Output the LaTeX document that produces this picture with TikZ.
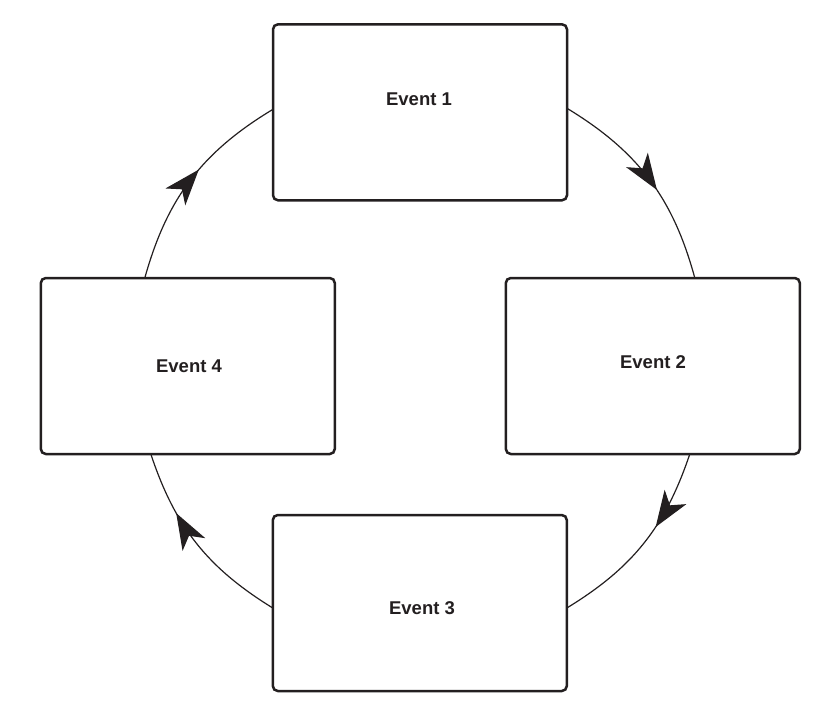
\documentclass[tikz,border=0pt]{standalone}
\usepackage{fontspec}
\setmainfont{Liberation Sans}
\usetikzlibrary{arrows.meta,decorations.markings,calc}
\definecolor{ink}{HTML}{231F20}
\begin{document}
\begin{tikzpicture}[x=1pt,y=-1pt,
  evbox/.style={draw=ink, line width=2.5pt, rounded corners=5pt, minimum width=294pt, minimum height=176pt, inner sep=0pt, outer sep=0pt},
  evtext/.style={font=\fontsize{18.5}{22}\selectfont\bfseries, text=ink, inner sep=0pt},
  cyc/.style={draw=ink, line width=1.2pt, postaction={decorate}, decoration={markings, mark=at position #1 with {\arrow{Stealth[length=36pt,width=26pt,inset=10pt]}}}}
]
\useasboundingbox (0,0) rectangle (818,720);
\node[evbox] (e1) at (420,112.3) {};
\node[evbox] (e2) at (652.8,366) {};
\node[evbox] (e3) at (419.8,603) {};
\node[evbox] (e4) at (187.8,366) {};
\node[evtext] (t1) at (419,99.3) {Event 1};
\node[evtext] (t2) at (653,361.7) {Event 2};
\node[evtext] (t3) at (422,607.7) {Event 3};
\node[evtext] (t4) at (189,366.7) {Event 4};
\coordinate (a1s) at ($(e1.east)+(0,-4)$);
\coordinate (a1e) at ($(e2.north)+(42,0)$);
\coordinate (a2s) at ($(e2.south)+(37,0)$);
\coordinate (a2e) at ($(e3.east)+(0,5)$);
\coordinate (a3s) at ($(e3.west)+(0,5)$);
\coordinate (a3e) at ($(e4.south)+(-37,0)$);
\coordinate (a4s) at ($(e4.north)+(-43,0)$);
\coordinate (a4e) at ($(e1.west)+(0,-3)$);
\path[cyc=0.56] (a1s) to[bend left=21.8] (a1e);
\path[cyc=0.40] (a2s) to[bend left=20] (a2e);
\path[cyc=0.68] (a3s) to[bend left=20] (a3e);
\path[cyc=0.56] (a4s) to[bend left=21.7] (a4e);
\end{tikzpicture}
\end{document}
